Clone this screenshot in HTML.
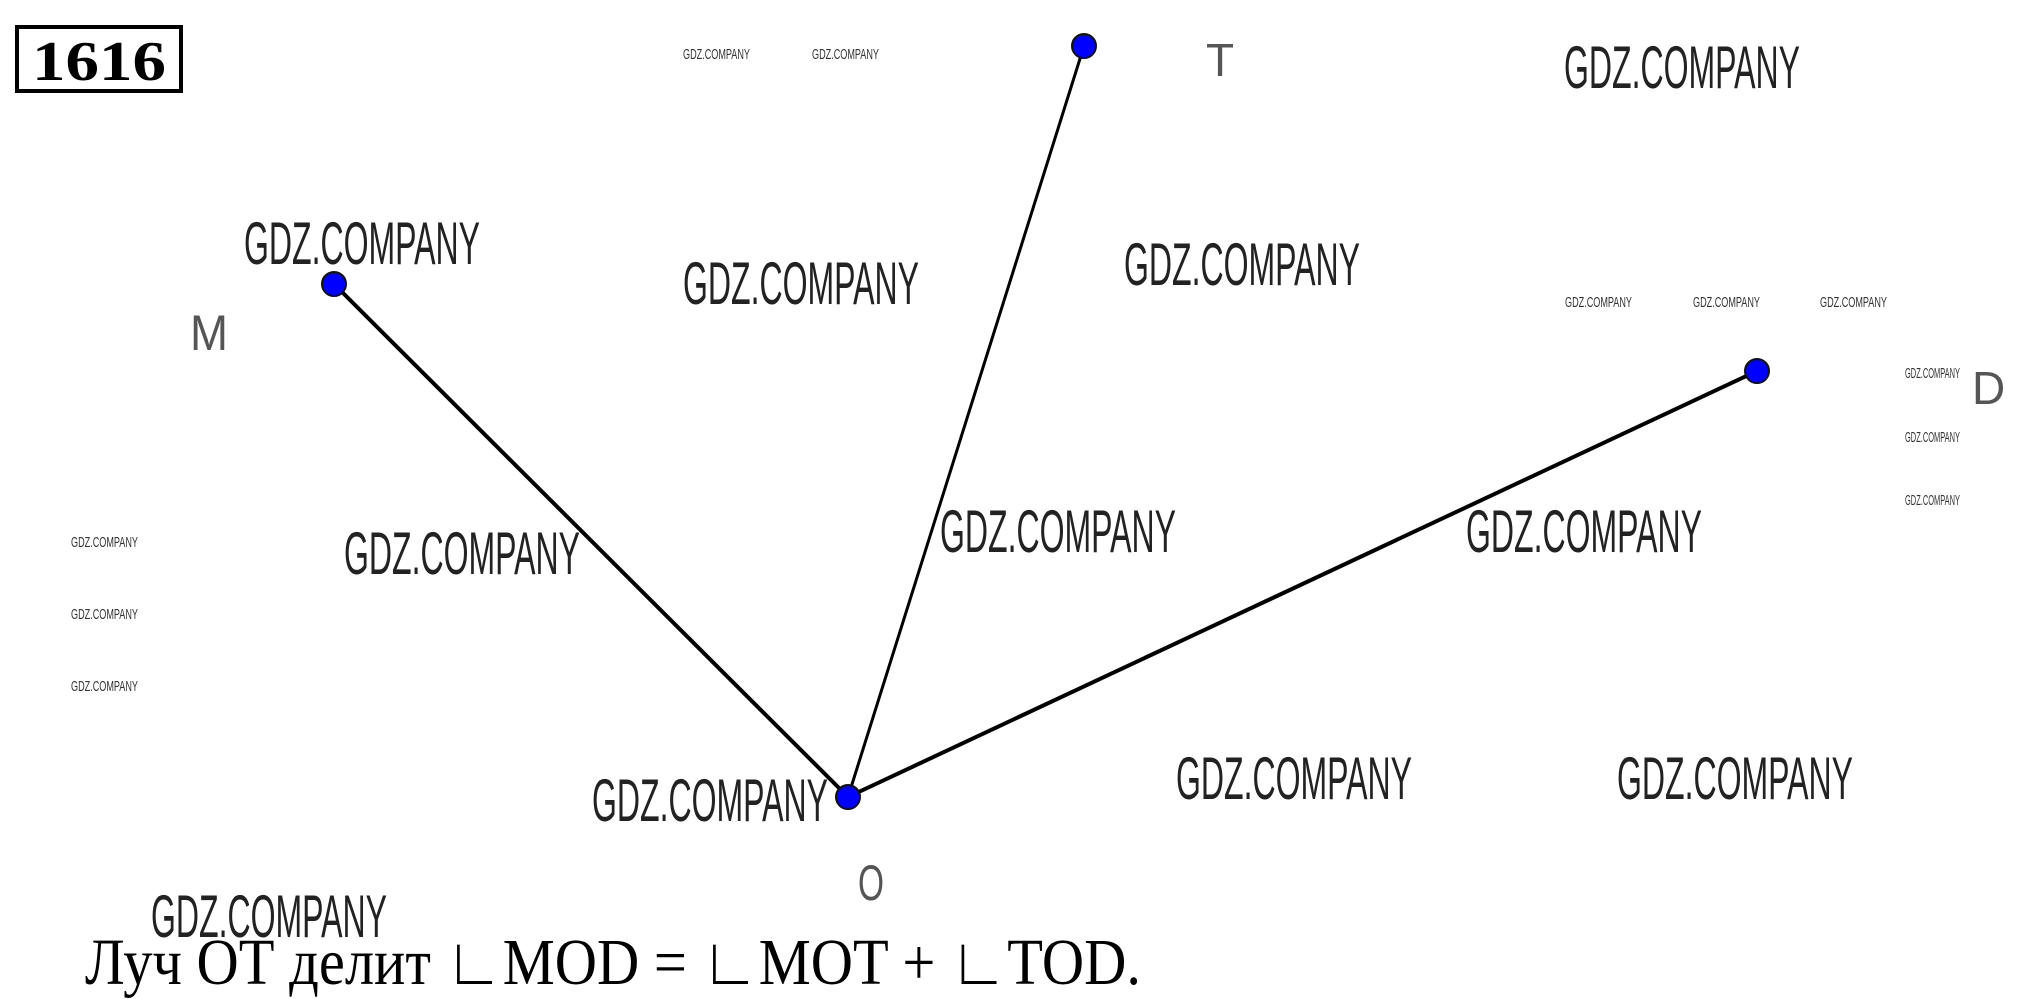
<!DOCTYPE html>
<html><head><meta charset="utf-8"><style>html,body{margin:0;padding:0;background:#fff}svg{display:block}</style></head>
<body>
<svg width="2019" height="999" viewBox="0 0 2019 999" xmlns="http://www.w3.org/2000/svg">
<rect x="0" y="0" width="2019" height="999" fill="#fff"/>
<rect x="17" y="27" width="164" height="64" fill="none" stroke="#000" stroke-width="4"/>
<text x="32" y="80" font-family="Liberation Serif, serif" font-weight="bold" font-size="56" textLength="134" lengthAdjust="spacingAndGlyphs">1616</text>
<g stroke="#000" stroke-width="4" stroke-linecap="round">
<line x1="848" y1="797" x2="334" y2="284"/>
<line x1="848" y1="797" x2="1084" y2="46" stroke-width="3"/>
<line x1="848" y1="797" x2="1757" y2="371"/>
</g>
<g fill="#0000ff" stroke="#111" stroke-width="2">
<circle cx="334" cy="284" r="12"/><circle cx="1084" cy="46" r="12"/><circle cx="1757" cy="371" r="12"/><circle cx="848" cy="797" r="12"/>
</g>
<g font-family="Liberation Sans, sans-serif" fill="#555">
<text x="190" y="350" font-size="50" textLength="38" lengthAdjust="spacingAndGlyphs">M</text>
<text x="1206" y="76" font-size="46">T</text>
<text x="1972" y="404" font-size="46">D</text>
<text x="858" y="900" font-size="50" textLength="26" lengthAdjust="spacingAndGlyphs">O</text>
</g>
<g font-family="Liberation Sans, sans-serif" font-size="60" fill="#222">
<text x="244" y="264" textLength="236" lengthAdjust="spacingAndGlyphs">GDZ.COMPANY</text>
<text x="683" y="304" textLength="236" lengthAdjust="spacingAndGlyphs">GDZ.COMPANY</text>
<text x="1124" y="285" textLength="236" lengthAdjust="spacingAndGlyphs">GDZ.COMPANY</text>
<text x="1564" y="88" textLength="236" lengthAdjust="spacingAndGlyphs">GDZ.COMPANY</text>
<text x="344" y="574" textLength="236" lengthAdjust="spacingAndGlyphs">GDZ.COMPANY</text>
<text x="940" y="552" textLength="236" lengthAdjust="spacingAndGlyphs">GDZ.COMPANY</text>
<text x="1466" y="552" textLength="236" lengthAdjust="spacingAndGlyphs">GDZ.COMPANY</text>
<text x="592" y="821" textLength="236" lengthAdjust="spacingAndGlyphs">GDZ.COMPANY</text>
<text x="1176" y="799" textLength="236" lengthAdjust="spacingAndGlyphs">GDZ.COMPANY</text>
<text x="1617" y="799" textLength="236" lengthAdjust="spacingAndGlyphs">GDZ.COMPANY</text>
<text x="151" y="937" textLength="236" lengthAdjust="spacingAndGlyphs">GDZ.COMPANY</text>
</g>
<g font-family="Liberation Sans, sans-serif" font-size="15" fill="#333">
<text x="683" y="59" textLength="67" lengthAdjust="spacingAndGlyphs">GDZ.COMPANY</text>
<text x="812" y="59" textLength="67" lengthAdjust="spacingAndGlyphs">GDZ.COMPANY</text>
<text x="1565" y="307" textLength="67" lengthAdjust="spacingAndGlyphs">GDZ.COMPANY</text>
<text x="1693" y="307" textLength="67" lengthAdjust="spacingAndGlyphs">GDZ.COMPANY</text>
<text x="1820" y="307" textLength="67" lengthAdjust="spacingAndGlyphs">GDZ.COMPANY</text>
<text x="1905" y="378" textLength="55" lengthAdjust="spacingAndGlyphs">GDZ.COMPANY</text>
<text x="1905" y="442" textLength="55" lengthAdjust="spacingAndGlyphs">GDZ.COMPANY</text>
<text x="1905" y="505" textLength="55" lengthAdjust="spacingAndGlyphs">GDZ.COMPANY</text>
<text x="71" y="547" textLength="67" lengthAdjust="spacingAndGlyphs">GDZ.COMPANY</text>
<text x="71" y="619" textLength="67" lengthAdjust="spacingAndGlyphs">GDZ.COMPANY</text>
<text x="71" y="691" textLength="67" lengthAdjust="spacingAndGlyphs">GDZ.COMPANY</text>
</g>
<text x="85" y="984" font-family="Liberation Serif, serif" font-size="66" fill="#000" textLength="1056" lengthAdjust="spacingAndGlyphs">Луч ОТ делит ∟MOD = ∟MOT + ∟TOD.</text>
</svg>
</body></html>
